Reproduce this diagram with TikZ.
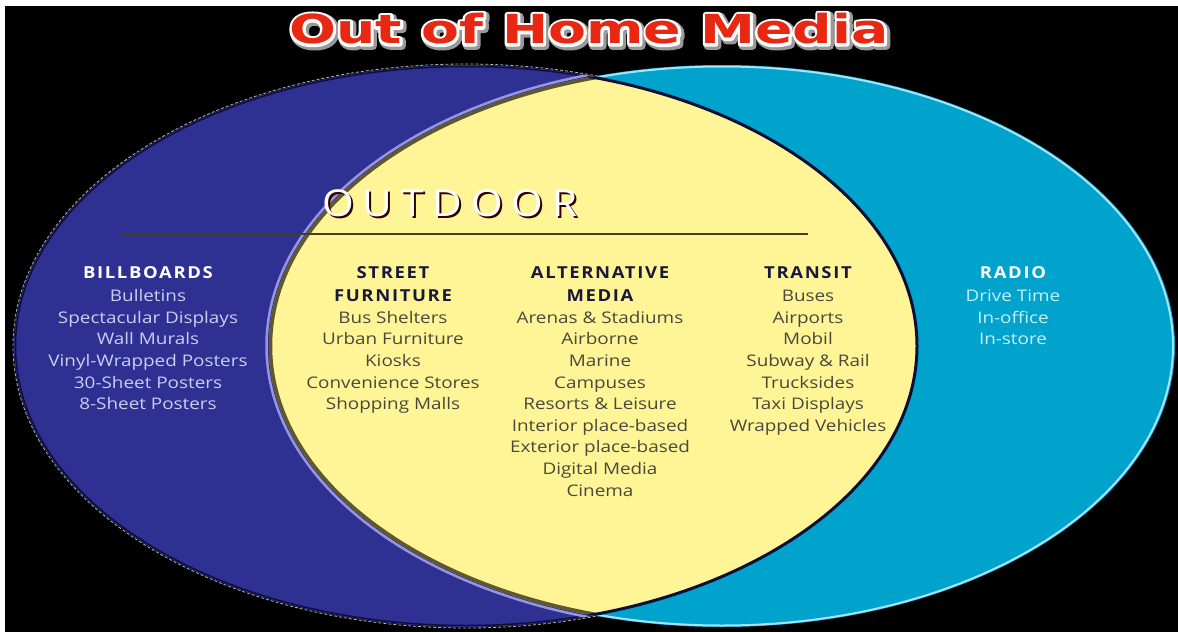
\documentclass[tikz,border=0pt]{standalone}
\usepackage{fontspec}
\setmainfont[FakeStretch=1.18]{Open Sans}
\newfontfamily\headfont[FakeStretch=1.12,LetterSpace=10]{Open Sans}
\newfontfamily\titlefont[FakeStretch=1.38]{DejaVu Sans}
\newfontfamily\outdoorfont[FakeStretch=1.1,LetterSpace=24]{Open Sans}
\usetikzlibrary{positioning}

\definecolor{billblue}{RGB}{46,49,146}
\definecolor{radiocyan}{RGB}{0,163,204}
\definecolor{outyellow}{RGB}{255,245,150}
\definecolor{titlered}{RGB}{232,40,18}
\definecolor{headnavy}{RGB}{24,24,60}
\definecolor{itemgray}{RGB}{74,72,60}
\definecolor{itemlilac}{RGB}{204,204,242}
\definecolor{itemcyan}{RGB}{200,240,252}
\definecolor{rimolive}{RGB}{96,88,44}
\definecolor{rimlilac}{RGB}{150,150,222}
\definecolor{rimnavy}{RGB}{14,14,56}

% column heading; text outlined by a stroke of the given gray/width
\newcommand{\colhead}[1]{{\headfont\bfseries\fontsize{16.5}{21.6}\selectfont #1}}
\newcommand{\strokedtext}[3]{\special{pdf:literal direct #1 RG #2 w 1 j 2 Tr}#3\special{pdf:literal direct 0 Tr 0.4 w}}

\begin{document}
\begin{tikzpicture}[x=1pt,y=-1pt,
  col/.style={anchor=north, align=center, inner sep=0pt,
    font=\fontsize{16}{21.6}\selectfont},
  titletext/.style={inner sep=0pt, font=\titlefont\bfseries\fontsize{40}{40}\selectfont},
  outtext/.style={inner sep=0pt, font=\outdoorfont\fontsize{37}{37}\selectfont}
]
% page and black ground
\fill[white] (0,0) rectangle (1178,632);
\fill[black] (5,6) rectangle (1178,632);

% the two big ovals
\fill[billblue] (466,346) ellipse [x radius=452, y radius=281];
\draw[white, densely dashed, line width=0.8, opacity=0.7] (466,346) ellipse [x radius=453, y radius=282];
\draw[rimnavy, line width=1.5] (466,346) ellipse [x radius=450.5, y radius=279.5];
\fill[radiocyan] (722,346) ellipse [x radius=453, y radius=281];
\draw[cyan!35!white, line width=2] (722,346) ellipse [x radius=451, y radius=279.5];

% overlap: outdoor lens
\begin{scope}
  \clip (466,346) ellipse [x radius=452, y radius=281];
  \fill[outyellow] (722,346) ellipse [x radius=453, y radius=281];
  \draw[rimlilac, line width=2.5] (722,346) ellipse [x radius=455.5, y radius=283.5];
  \draw[rimolive, line width=3.5] (722,346) ellipse [x radius=451.5, y radius=279.5];
\end{scope}
\begin{scope}
  \clip (722,346) ellipse [x radius=453, y radius=281];
  \draw[rimnavy, line width=3] (466,346) ellipse [x radius=451, y radius=280];
\end{scope}

% outdoor heading and rule
\node[outtext, text=black!80!red] (outdoor-shadow) at (452,205) {OUTDOOR};
\node[outtext, text=white] (outdoor) at (450,203) {OUTDOOR};
\coordinate (rule-l) at (122,234);
\coordinate (rule-r) at (808,234);
\draw[rimolive!70!black, line width=2.5] (rule-l) -- (rule-r);

% columns
\node[col, text=itemlilac] (billboards) at (148,266) {\textcolor{white}{\colhead{BILLBOARDS}}\\[2pt]
  Bulletins\\ Spectacular Displays\\ Wall Murals\\ Vinyl-Wrapped Posters\\
  30-Sheet Posters\\ 8-Sheet Posters};
\node[col, text=itemgray] (street) at (393,266) {\textcolor{headnavy}{\colhead{STREET}}\\[2pt]
  \textcolor{headnavy}{\colhead{FURNITURE}}\\ Bus Shelters\\ Urban Furniture\\ Kiosks\\
  Convenience Stores\\ Shopping Malls};
\node[col, text=itemgray] (alternative) at (600,266) {\textcolor{headnavy}{\colhead{ALTERNATIVE}}\\[2pt]
  \textcolor{headnavy}{\colhead{MEDIA}}\\ Arenas \& Stadiums\\ Airborne\\ Marine\\ Campuses\\
  Resorts \& Leisure\\ Interior place-based\\ Exterior place-based\\ Digital Media\\ Cinema};
\node[col, text=itemgray] (transit) at (808,266) {\textcolor{headnavy}{\colhead{TRANSIT}}\\[2pt]
  Buses\\ Airports\\ Mobil\\ Subway \& Rail\\ Trucksides\\ Taxi Displays\\ Wrapped Vehicles};
\node[col, text=itemcyan] (radio) at (1013,266) {\textcolor{white}{\colhead{RADIO}}\\[2pt]
  Drive Time\\ In-office\\ In-store};

% title: gray fringe, white rim, red letters
\node[titletext, text=gray!70] (title-shade) at (591,31) {\strokedtext{0.6 0.6 0.6}{8}{Out of Home Media}};
\node[titletext, text=white] (title-rim) at (589,29) {\strokedtext{1 1 1}{5.5}{Out of Home Media}};
\node[titletext, text=titlered] (title) at (589,29) {Out of Home Media};
\end{tikzpicture}
\end{document}
